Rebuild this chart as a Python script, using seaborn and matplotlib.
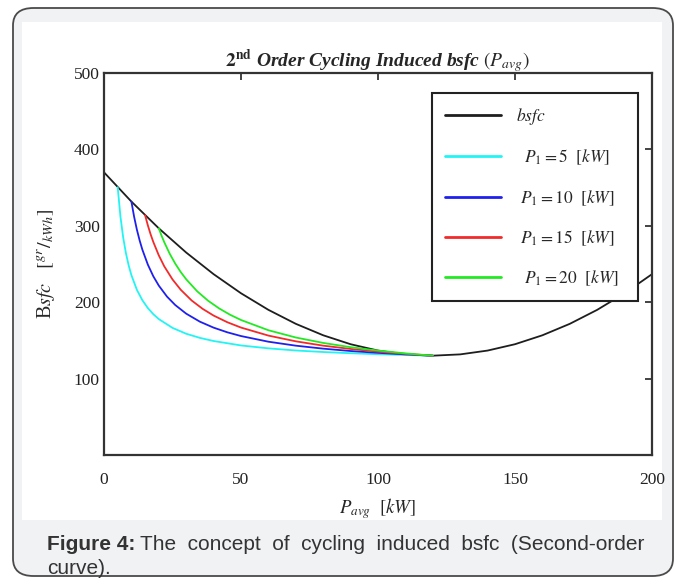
import numpy as np
import pandas as pd
import matplotlib
matplotlib.use("Agg")
import matplotlib.pyplot as plt
import seaborn as sns
from matplotlib.patches import FancyBboxPatch, Rectangle

# ---- data ----
bsfc_p = [0, 10, 20, 30, 40, 50, 60, 70, 80, 90, 100, 110, 120, 130, 140, 150, 160, 170, 180, 190, 200]
bsfc_v = [370.0, 331.7, 296.7, 265.0, 236.7, 211.7, 190.0, 171.7, 156.7, 145.0, 136.7, 131.7, 130.0,
          131.7, 136.7, 145.0, 156.7, 171.7, 190.0, 211.7, 236.7]

p5_p = [5, 6, 7, 8, 9, 10, 12, 14, 16, 18, 20, 25, 30, 35, 40, 50, 60, 70, 80, 90, 100, 110, 120]
p5_v = [350.4, 312.1, 284.7, 264.2, 248.2, 235.4, 216.2, 202.6, 192.3, 184.3, 177.9, 166.4, 158.7,
        153.3, 149.2, 143.4, 139.6, 136.8, 134.8, 133.2, 131.9, 130.9, 130.0]

p10_p = [10, 11, 12, 13, 14, 16, 18, 20, 23, 26, 30, 35, 40, 45, 50, 60, 70, 80, 90, 100, 110, 120]
p10_v = [331.7, 311.7, 295.0, 280.9, 268.8, 249.2, 233.9, 221.7, 207.3, 196.3, 185.0, 174.5, 166.7,
         160.6, 155.7, 148.3, 143.1, 139.2, 136.1, 133.7, 131.7, 130.0]

p15_p = [15, 16, 17, 18, 20, 22, 25, 28, 32, 36, 40, 45, 50, 60, 70, 80, 90, 100, 110, 120]
p15_v = [313.8, 300.6, 289.0, 278.8, 261.3, 246.9, 229.8, 216.3, 202.2, 191.3, 182.5, 173.8, 166.8,
         156.3, 148.8, 143.1, 138.8, 135.3, 132.4, 130.0]

p20_p = [20, 21, 22, 24, 26, 28, 30, 34, 38, 42, 46, 50, 60, 70, 80, 90, 100, 110, 120]
p20_v = [296.7, 287.1, 278.5, 263.3, 250.5, 239.5, 230.0, 214.3, 201.9, 191.9, 183.6, 176.7, 163.3,
         153.8, 146.7, 141.1, 136.7, 133.0, 130.0]

labels = [r"$bsfc$", r"$\ \ P_1 = 5\ \ [kW]$", r"$\ P_1 = 10\ \ [kW]$", r"$\ P_1 = 15\ \ [kW]$", r"$\ \ P_1 = 20\ \ [kW]$"]
colors = ["#1e1e1e", "#22f4f4", "#2020ee", "#f22a2a", "#22ea22"]
x_ticks = [0, 50, 100, 150, 200]
y_ticks = [100, 200, 300, 400, 500]

series = [(bsfc_p, bsfc_v), (p5_p, p5_v), (p10_p, p10_v), (p15_p, p15_v), (p20_p, p20_v)]
frames = []
for lab, (px, pv) in zip(labels, series):
    frames.append(pd.DataFrame({"P": px, "bsfc": pv, "series": lab}))
df = pd.concat(frames, ignore_index=True)

# ---- figure ----
sns.set_style("white")
plt.rcParams["font.family"] = ["Liberation Serif", "DejaVu Serif"]
plt.rcParams["mathtext.fontset"] = "stix"

W, H = 683, 580
fig = plt.figure(figsize=(W / 100, H / 100), dpi=100)
fig.patch.set_facecolor("white")

# outer card
card = FancyBboxPatch((13 / W, 4 / H), (660) / W, (568) / H,
                      boxstyle="round,pad=0,rounding_size=0.03",
                      transform=fig.transFigure, facecolor="#f1f2f4",
                      edgecolor="#4a4a4a", linewidth=1.3, zorder=-3)
fig.patches.append(card)
inner = Rectangle((22 / W, 1 - 520 / H), (662 - 22) / W, (520 - 22) / H,
                  transform=fig.transFigure, facecolor="white", edgecolor="none", zorder=-2)
fig.patches.append(inner)

AX_L, AX_R, AX_T, AX_B = 104, 652, 73, 455
ax = fig.add_axes([AX_L / W, 1 - AX_B / H, (AX_R - AX_L) / W, (AX_B - AX_T) / H])
ax.set_zorder(1)
ax.set_facecolor("white")

sns.lineplot(data=df, x="P", y="bsfc", hue="series", palette=dict(zip(labels, colors)),
             hue_order=labels, estimator=None, sort=False, linewidth=1.3, ax=ax, legend=True)

ax.set_xlim(0, 200)
ax.set_ylim(0, 500)
ax.set_xticks(x_ticks)
ax.set_yticks(y_ticks)
ax.tick_params(direction="in", length=5, width=1.2, top=True, right=True,
               labeltop=False, labelright=False, labelsize=12.5, colors="#222222", pad=12)
ax.tick_params(axis="y", pad=3)
for s in ax.spines.values():
    s.set_linewidth(1.6)
    s.set_color("#333333")
    s.set_visible(True)

ax.set_xlabel(r"$P_{avg}\ \ [kW]$", fontsize=13.5, labelpad=6)
ax.set_ylabel(r"B$sfc$   $\left[{}^{gr}/_{kWh}\right]$", fontsize=14.5, labelpad=12)
ax.set_title(r"$\mathbf{2^{nd}}$ Order Cycling Induced bsfc $\left(P_{avg}\right)$",
             fontsize=14, fontweight="bold", fontstyle="italic", pad=5)

# legend box: x 432..638, top at 93 (pixels)
bx0 = (432 - AX_L) / (AX_R - AX_L)
bw = (638 - 432) / (AX_R - AX_L)
btop = 1 - (93 - AX_T) / (AX_B - AX_T)
handles, _ = ax.get_legend_handles_labels()
leg = ax.legend(handles=handles, labels=labels, loc="upper left",
                bbox_to_anchor=(bx0, btop - 0.5, bw, 0.5), mode="expand",
                fontsize=12.5, labelspacing=1.2, handlelength=3.2, handletextpad=0.9,
                borderpad=0.75, borderaxespad=0.0, frameon=True, fancybox=False, framealpha=1.0)
leg.get_frame().set_edgecolor("#222222")
leg.get_frame().set_linewidth(1.5)
for line in leg.get_lines():
    line.set_linewidth(2.0)

# caption
cap_kw = dict(fontsize=15, color="#333333", family=["Liberation Sans", "DejaVu Sans"])
t1 = fig.text(47 / W, 1 - 545 / H, "Figure 4:", fontweight="bold", va="center", **cap_kw)
fig.canvas.draw()
bb = t1.get_window_extent(renderer=fig.canvas.get_renderer())
x2 = bb.x1 / (W) + 5 / W
fig.text(x2, 1 - 545 / H, "The  concept  of  cycling  induced  bsfc  (Second-order", va="center", **cap_kw)
fig.text(47 / W, 1 - 568 / H, "curve).", va="center", **cap_kw)

fig.savefig("out.png", dpi=100, facecolor="white")
